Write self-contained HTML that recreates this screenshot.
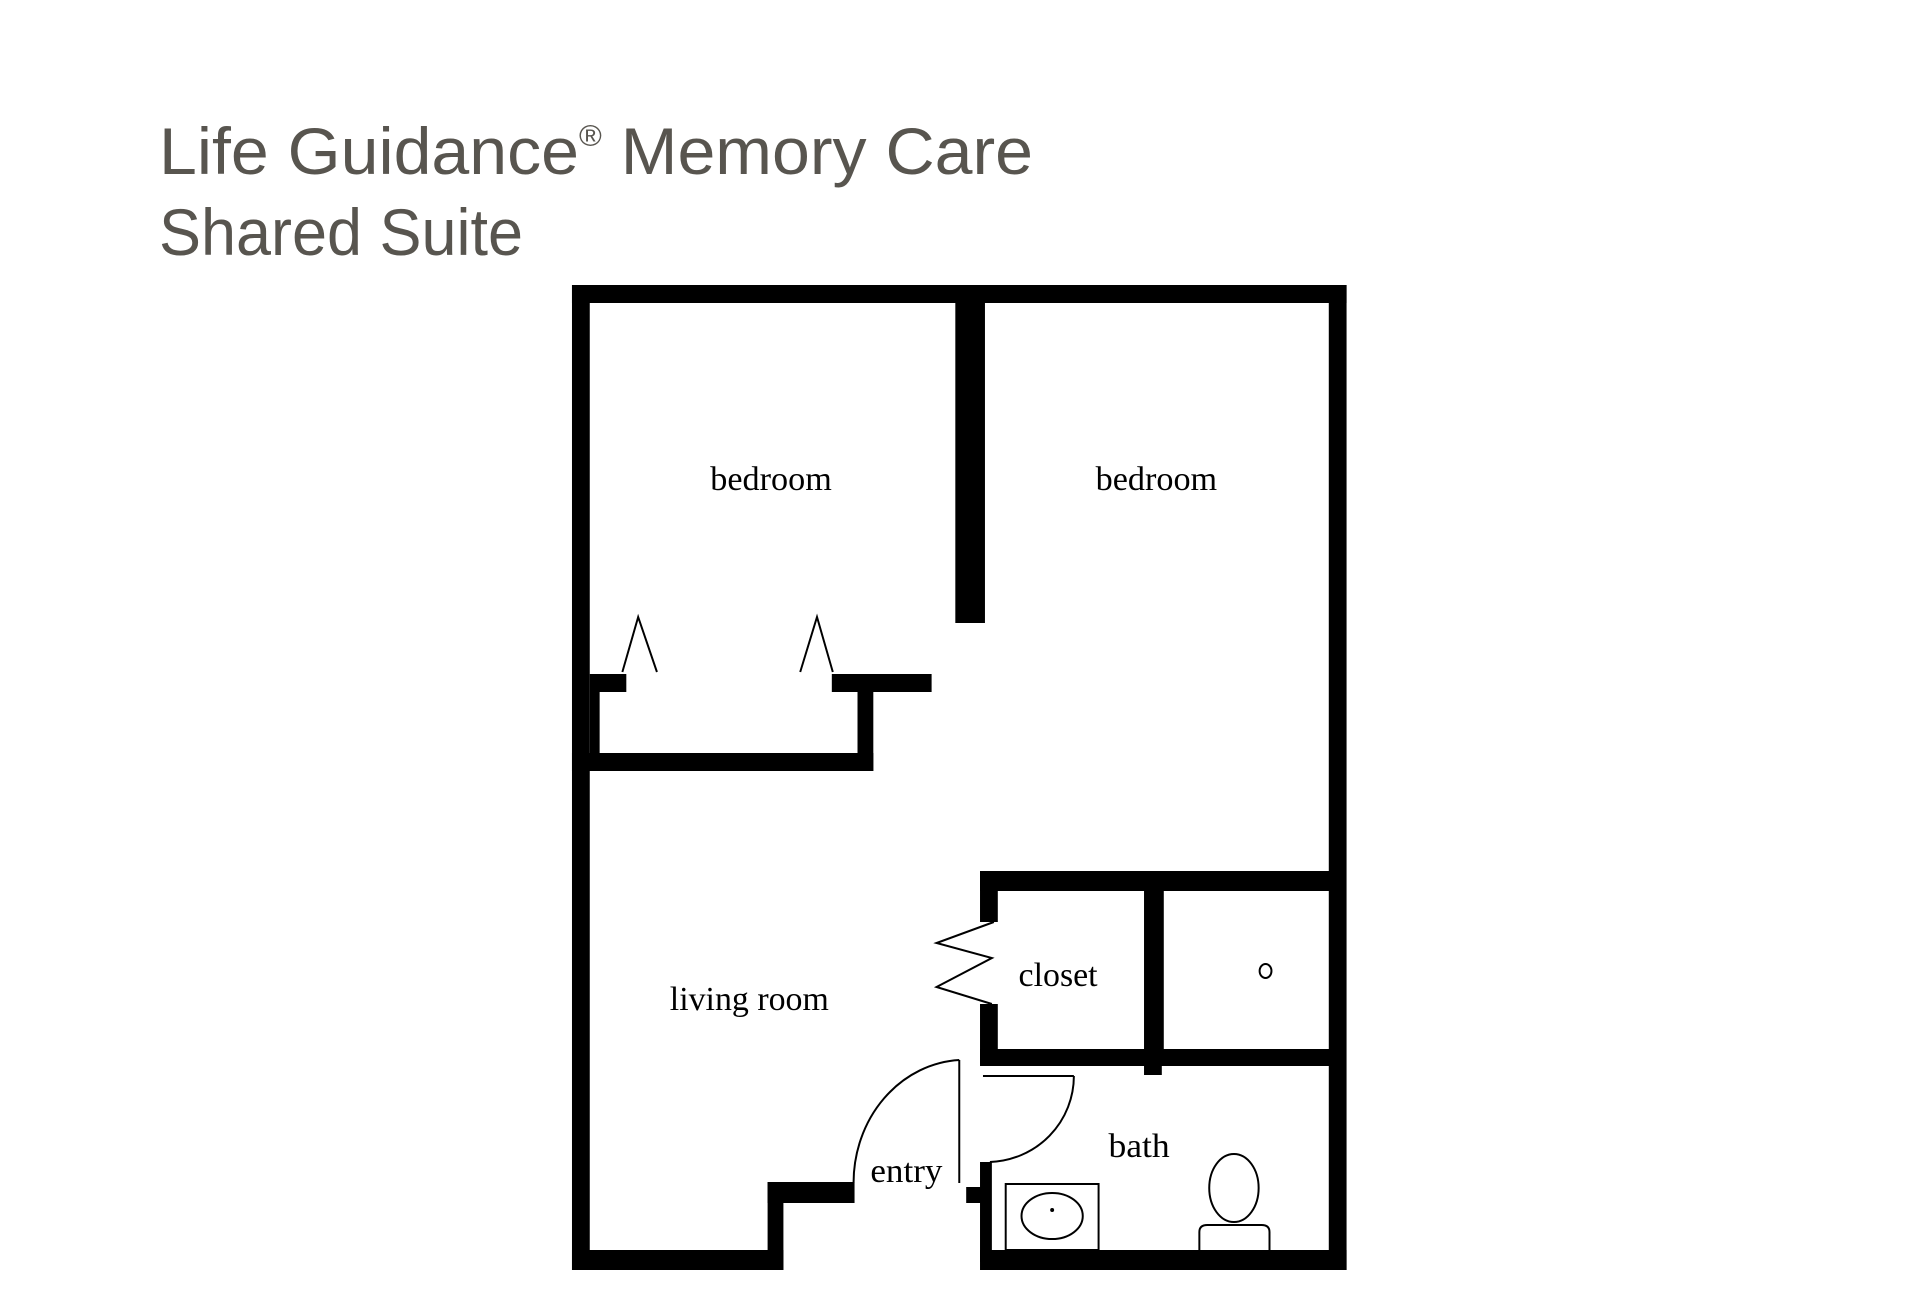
<!DOCTYPE html>
<html><head><meta charset="utf-8"><style>
html,body{margin:0;padding:0;background:#fff;}
svg{display:block}
</style></head><body>
<svg width="1920" height="1303" viewBox="0 0 1920 1303" xmlns="http://www.w3.org/2000/svg">
<rect width="1920" height="1303" fill="#fff"/>
<g font-family="Liberation Sans, sans-serif" fill="#58554f" font-size="66">
<text x="159" y="174" textLength="874" lengthAdjust="spacingAndGlyphs">Life Guidance<tspan font-size="30" dy="-28">®</tspan><tspan dy="28"> Memory Care</tspan></text>
<text x="159" y="255" textLength="364" lengthAdjust="spacingAndGlyphs">Shared Suite</text>
</g>
<g transform="matrix(0.988 0 0 1 1.9 0)">
<g fill="#000">
<rect x="577" y="285" width="784" height="18"/>
<rect x="577" y="285" width="18" height="985"/>
<rect x="1343" y="285" width="18" height="985"/>
<rect x="577" y="1250" width="214" height="20"/>
<rect x="775" y="1182" width="16" height="88"/>
<rect x="775" y="1182" width="88" height="21"/>
<rect x="990" y="1250" width="371" height="20"/>
<rect x="965" y="285" width="30" height="338"/>
<rect x="595" y="674" width="37" height="18"/>
<rect x="840" y="674" width="101" height="18"/>
<rect x="866" y="674" width="16" height="97"/>
<rect x="577" y="753" width="305" height="18"/>
<rect x="595" y="692" width="10" height="70"/>
<rect x="990" y="871" width="355" height="20"/>
<rect x="990" y="871" width="18" height="51"/>
<rect x="990" y="1004" width="18" height="60"/>
<rect x="990" y="1049" width="355" height="17"/>
<rect x="1156" y="871" width="20" height="194"/>
<rect x="1156" y="1060" width="18" height="15"/>
<rect x="990" y="1162" width="12" height="100"/>
<rect x="976" y="1187" width="15" height="16"/>
</g>
<g fill="none" stroke="#000" stroke-width="2">
<polyline points="628,672 644,617 663,672"/>
<polyline points="808,672 825,617 841,672"/>
<polyline points="1004,922 946,943 1002,958 946,987 1002,1004"/>
<line x1="969" y1="1060" x2="969" y2="1183"/>
<path d="M969,1060 A113,123 0 0 0 862,1183"/>
<line x1="993" y1="1076" x2="1085" y2="1076"/>
<path d="M1085,1076 A88,86 0 0 1 1000,1162"/>
<ellipse cx="1279" cy="971" rx="6" ry="7"/>
<rect x="1016" y="1184" width="94" height="66"/>
<ellipse cx="1063" cy="1216" rx="31" ry="23"/>
<ellipse cx="1247" cy="1188" rx="25" ry="34"/>
<path d="M1212,1250 V1232 Q1212,1225 1220,1225 H1275 Q1283,1225 1283,1232 V1250"/>
</g>
<circle cx="1063" cy="1210" r="2" fill="#000"/>
<g font-family="Liberation Serif, serif" font-size="34" fill="#000">
<text x="717" y="490" textLength="123" lengthAdjust="spacingAndGlyphs">bedroom</text>
<text x="1107" y="490" textLength="123" lengthAdjust="spacingAndGlyphs">bedroom</text>
<text x="676" y="1010" textLength="161" lengthAdjust="spacingAndGlyphs">living room</text>
<text x="1029" y="986" textLength="80" lengthAdjust="spacingAndGlyphs">closet</text>
<text x="879" y="1182" textLength="73" lengthAdjust="spacingAndGlyphs">entry</text>
<text x="1120" y="1157" textLength="62" lengthAdjust="spacingAndGlyphs">bath</text>
</g>
</g>
</svg>
</body></html>
